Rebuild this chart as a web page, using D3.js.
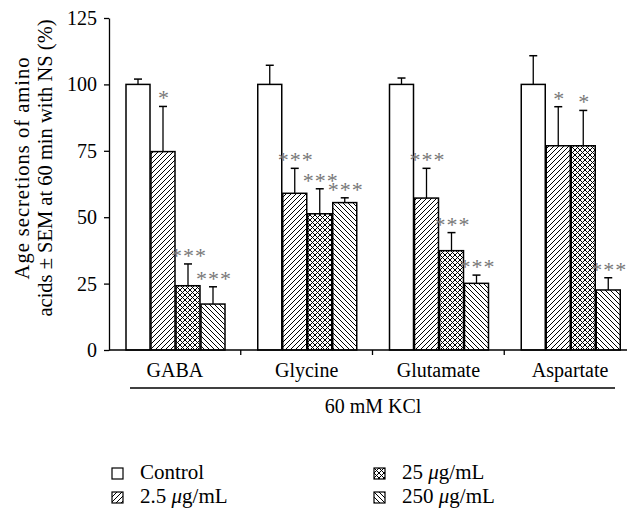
<!DOCTYPE html>
<html>
<head>
<meta charset="utf-8">
<script src="https://cdn.jsdelivr.net/npm/d3@7"></script>
<style>
  body { margin: 0; background: #fff; }
  svg text { font-family: "Liberation Serif", "Times New Roman", serif; }
</style>
</head>
<body>
<script>
var w = 627, h = 512;

var categories = ["GABA", "Glycine", "Glutamate", "Aspartate"];
var seriesNames = ["Control", "2.5", "25", "250"];
var control = [100, 100, 100, 100];
var dose2_5 = [74.7, 59, 57.2, 76.9];
var dose25 = [24.2, 51.3, 37.4, 76.9];
var dose250 = [17.3, 55.5, 25.1, 22.6];
var semControl = [2, 7.2, 2.4, 10.8];
var sem2_5 = [17, 9.4, 11.2, 14.7];
var sem25 = [8.2, 9.4, 6.8, 13.3];
var sem250 = [6.5, 1.8, 3.1, 4.6];
var starsControl = ["", "", "", ""];
var stars2_5 = ["*", "***", "***", "*"];
var stars25 = ["***", "***", "***", "*"];
var stars250 = ["***", "***", "***", "***"];
var yTicks = [0, 25, 50, 75, 100, 125];

var means = [control, dose2_5, dose25, dose250];
var sems = [semControl, sem2_5, sem25, sem250];
var stars = [starsControl, stars2_5, stars25, stars250];
var fills = ["#fff", "url(#fwd)", "url(#cross)", "url(#back)"];

var svg = d3.select("body").append("svg").attr("width", w).attr("height", h);

// hatch patterns
var defs = svg.append("defs");
function pat(id, size, d) {
  var p = defs.append("pattern").attr("id", id).attr("patternUnits", "userSpaceOnUse")
    .attr("width", size).attr("height", size);
  p.append("rect").attr("width", size).attr("height", size).attr("fill", "#fff");
  p.append("path").attr("d", d).attr("stroke", "#000").attr("stroke-width", 1).attr("fill", "none");
}
pat("fwd", 5, "M-1,1 L1,-1 M0,5 L5,0 M4,6 L6,4");
pat("back", 5, "M-1,4 L1,6 M0,0 L5,5 M4,-1 L6,1");
pat("cross", 5, "M-1,1 L1,-1 M0,5 L5,0 M4,6 L6,4 M-1,4 L1,6 M0,0 L5,5 M4,-1 L6,1");

var x = d3.scaleBand().domain(categories).range([109, 636]);
var xs = d3.scaleBand().domain(d3.range(4)).range([17, 116]).paddingInner(0.04);
var y = d3.scaleLinear().domain([0, 125]).range([350, 18]);

// bars
var rows = [];
categories.forEach(function(c, ci) {
  for (var s = 0; s < 4; s++) {
    rows.push({cat: c, s: s, v: means[s][ci], e: sems[s][ci], st: stars[s][ci]});
  }
});

svg.selectAll("rect.bar").data(rows).enter().append("rect")
  .attr("class", "bar")
  .attr("x", function(d) { return x(d.cat) + xs(d.s); })
  .attr("y", function(d) { return y(d.v); })
  .attr("width", xs.bandwidth())
  .attr("height", function(d) { return y(0) - y(d.v); })
  .attr("fill", function(d) { return fills[d.s]; })
  .attr("stroke", "#000").attr("stroke-width", 1.5);

// error bars + significance stars
var eb = svg.selectAll("g.err").data(rows).enter().append("g").attr("class", "err")
  .attr("transform", function(d) { return "translate(" + (x(d.cat) + xs(d.s) + xs.bandwidth() / 2) + ",0)"; });
eb.append("line").attr("y1", function(d) { return y(d.v); }).attr("y2", function(d) { return y(d.v + d.e); })
  .attr("stroke", "#000").attr("stroke-width", 1.3);
eb.append("line").attr("x1", -4).attr("x2", 4)
  .attr("y1", function(d) { return y(d.v + d.e); }).attr("y2", function(d) { return y(d.v + d.e); })
  .attr("stroke", "#000").attr("stroke-width", 1.5);
eb.append("text").text(function(d) { return d.st; })
  .attr("x", 1)
  .attr("y", function(d) { return y(d.v + d.e) - 1; })
  .attr("text-anchor", "middle").attr("font-size", "22px").attr("letter-spacing", "1px")
  .attr("fill", "#777");

// y axis
var yAxis = svg.append("g").attr("transform", "translate(109,0)")
  .call(d3.axisLeft(y).tickValues(yTicks).tickSize(5).tickSizeOuter(0).tickPadding(7));
yAxis.selectAll("text").attr("font-size", "20px").attr("fill", "#000");
yAxis.selectAll("line, path").attr("stroke", "#000").attr("stroke-width", 1.3);

// x axis
svg.append("line").attr("x1", 109).attr("x2", w).attr("y1", y(0)).attr("y2", y(0))
  .attr("stroke", "#000").attr("stroke-width", 1.5);
svg.selectAll("line.xtick").data(categories.slice(1)).enter().append("line")
  .attr("x1", function(d) { return x(d); }).attr("x2", function(d) { return x(d); })
  .attr("y1", y(0)).attr("y2", y(0) + 5).attr("stroke", "#000").attr("stroke-width", 1.3);
svg.selectAll("text.cat").data(categories).enter().append("text")
  .attr("x", function(d) { return x(d) + x.bandwidth() / 2; })
  .attr("y", 377).attr("text-anchor", "middle").attr("font-size", "20px")
  .text(function(d) { return d; });

svg.append("line").attr("x1", 130).attr("x2", 615).attr("y1", 388).attr("y2", 388)
  .attr("stroke", "#000").attr("stroke-width", 1.3);
svg.append("text").attr("x", 373).attr("y", 413).attr("text-anchor", "middle")
  .attr("font-size", "20px").text("60 mM KCl");

// y label
var yl = svg.append("text").attr("transform", "translate(0,168) rotate(-90)")
  .attr("text-anchor", "middle").attr("font-size", "20.5px");
yl.append("tspan").attr("x", 0).attr("y", 29).attr("letter-spacing", "1px").text("Age secretions of amino");
yl.append("tspan").attr("x", 0).attr("y", 52).attr("letter-spacing", "0px").text("acids \u00b1 SEM at 60 min with NS (%)");

// legend
var legendPos = [[112, 468], [112, 492], [374, 468], [374, 492]];
var lg = svg.selectAll("g.leg").data(d3.range(4)).enter().append("g").attr("class", "leg")
  .attr("transform", function(i) { return "translate(" + legendPos[i][0] + "," + legendPos[i][1] + ")"; });
lg.append("rect").attr("width", 11).attr("height", 11)
  .attr("fill", function(i) { return fills[i]; }).attr("stroke", "#000").attr("stroke-width", 1.2);
lg.each(function(i) {
  var t = d3.select(this).append("text").attr("x", 28).attr("y", 11).attr("font-size", "21px");
  if (i === 0) { t.text(seriesNames[i]); }
  else {
    t.append("tspan").text(seriesNames[i] + " ");
    t.append("tspan").attr("font-style", "italic").text("\u03bc");
    t.append("tspan").text("g/mL");
  }
});
</script>
</body>
</html>
